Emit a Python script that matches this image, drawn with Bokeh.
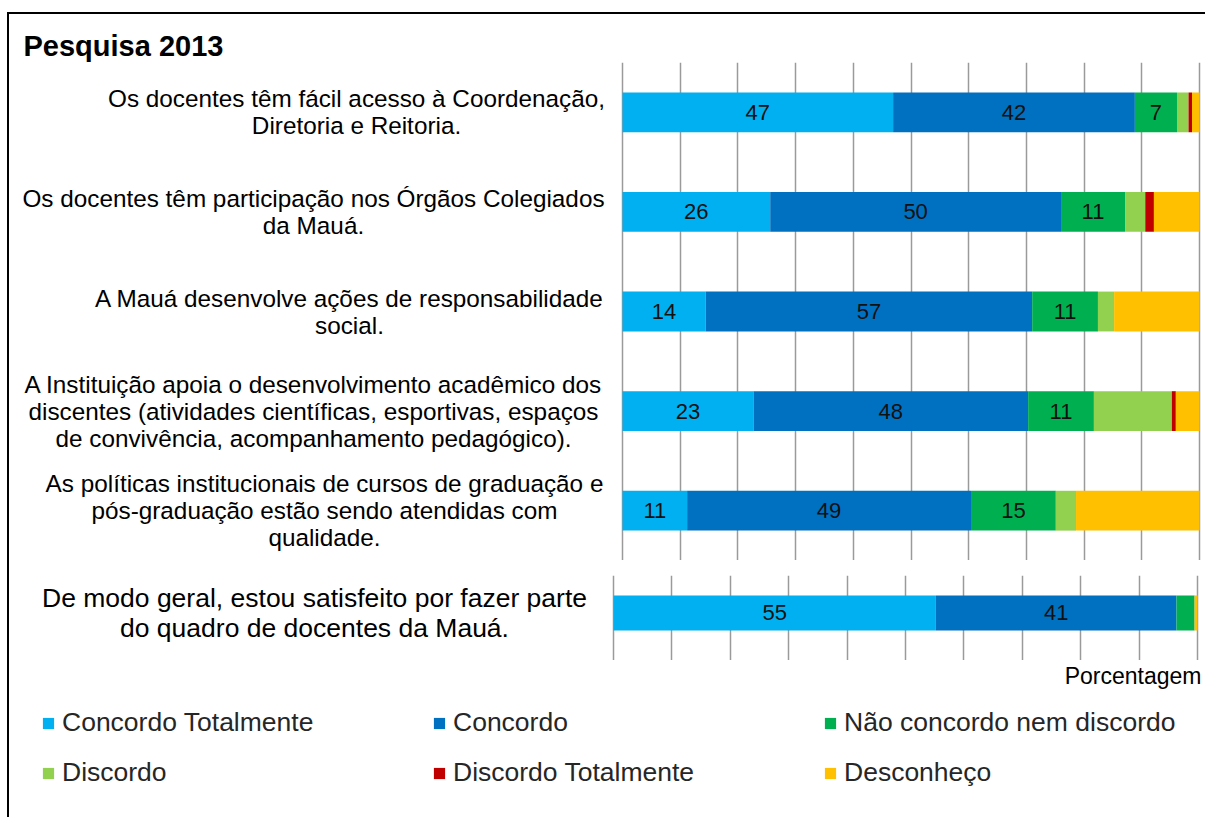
from bokeh.plotting import figure
from bokeh.models import Range1d, Label, Legend, LegendItem, Grid, FixedTicker, ColumnDataSource
from bokeh.layouts import column
from bokeh.embed import file_html
from bokeh.resources import INLINE
from bokeh.core.properties import value

# ---------------- data ----------------
title_text = "Pesquisa 2013"
series = ["Concordo Totalmente", "Concordo", "Não concordo nem discordo",
          "Discordo", "Discordo Totalmente", "Desconheço"]
colors = ["#00B0F0", "#0070C0", "#00B050", "#92D050", "#C00000", "#FFC000"]

top_questions = [
    "Os docentes têm fácil acesso à Coordenação,\nDiretoria e Reitoria.",
    "Os docentes têm participação nos Órgãos Colegiados\nda Mauá.",
    "A Mauá desenvolve ações de responsabilidade\nsocial.",
    "A Instituição apoia o desenvolvimento acadêmico dos\ndiscentes (atividades científicas, esportivas, espaços\nde convivência, acompanhamento pedagógico).",
    "As políticas institucionais de cursos de graduação e\npós-graduação estão sendo atendidas com\nqualidade.",
]
concordo_totalmente = [46.9, 25.6, 14.4, 22.7, 11.2]
concordo = [41.9, 50.4, 56.6, 47.6, 49.2]
nao_concordo = [7.3, 11.1, 11.4, 11.4, 14.7]
discordo = [2.0, 3.5, 2.8, 13.5, 3.5]
discordo_totalmente = [0.6, 1.5, 0.0, 0.7, 0.0]
desconheco = [1.3, 7.9, 14.8, 4.1, 21.4]

bottom_questions = ["De modo geral, estou satisfeito por fazer parte\ndo quadro de docentes da Mauá."]
geral_concordo_totalmente = [55.2]
geral_concordo = [41.2]
geral_nao_concordo = [3.1]
geral_discordo = [0.0]
geral_discordo_totalmente = [0.0]
geral_desconheco = [0.5]

x_ticks = list(range(0, 101, 10))
axis_title = "Porcentagem"

# ---------------- layout constants (page pixels) ----------------
FONT = "Liberation Sans"
W = 1196            # width of every figure
ORIGIN_X = 9        # page x of the figures' left edge
LEG_H = 157         # height of the legend strip
LEG_BOTTOM = 817    # page y of its bottom edge
keys = ["ct", "c", "n", "d", "dt", "ds"]


def blank(height, x_range=None, y_range=None, top=0):
    p = figure(width=W, height=height, output_backend="svg", toolbar_location=None,
               x_range=x_range or Range1d(0, 1), y_range=y_range or Range1d(0, 1),
               x_axis_location=None, y_axis_location=None,
               min_border_left=0, min_border_right=0,
               min_border_top=top, min_border_bottom=0)
    p.outline_line_color = None
    p.background_fill_color = "white"
    p.border_fill_color = "white"
    for g in p.grid:
        g.visible = False
    return p


def stack_source(cols, n):
    data = {"y": [i + 0.5 for i in range(n)]}
    for k, vals in zip(keys, cols):
        data[k] = vals
    return ColumnDataSource(data)


def make_panel(questions, cols, height, top, zero_px, hundred_px, y_range, label_xs, label_size):
    n = len(questions)
    ppu = (hundred_px - zero_px) / 100.0
    x0 = (ORIGIN_X - zero_px) / ppu
    p = blank(height, Range1d(x0, x0 + W / ppu), y_range, top)
    p.add_layout(Grid(dimension=0, ticker=FixedTicker(ticks=x_ticks),
                      grid_line_color="#9A9A9A", grid_line_width=1.5))
    p.hbar_stack(keys, y="y", height=0.4, color=colors, line_color=None,
                 source=stack_source(cols, n))

    tx, ty, tt = [], [], []
    for i in range(n):
        acc = 0.0
        for j in range(len(keys)):
            v = cols[j][i]
            if j < 3 and v >= 5:
                tx.append(acc + v / 2)
                ty.append(i + 0.5)
                tt.append(str(int(round(v))))
            acc += v
    p.text(x=tx, y=ty, text=tt, text_align="center", text_baseline="middle",
           text_font=value(FONT), text_font_size="22px", text_color="#111111")

    for i, q in enumerate(questions):
        p.add_layout(Label(x=label_xs[i] - ORIGIN_X, x_units="screen", y=i + 0.5, y_units="data",
                           text=q, text_align="center", text_baseline="middle",
                           text_font=FONT, text_font_size=label_size, text_color="#000000",
                           text_line_height=1.0))
    return p


top_cols = [concordo_totalmente, concordo, nao_concordo, discordo, discordo_totalmente, desconheco]
bot_cols = [geral_concordo_totalmente, geral_concordo, geral_nao_concordo, geral_discordo,
            geral_discordo_totalmente, geral_desconheco]

# title strip: page y 14..62
p0 = blank(48)
p0.add_layout(Label(x=23 - ORIGIN_X, x_units="screen", y=17, y_units="screen", text=title_text,
                    text_align="left", text_baseline="middle", text_font=FONT,
                    text_font_size="29px", text_font_style="bold", text_color="#000000"))

# top panel: page y 62..560, 0% at x=622, 100% at x=1199
p1 = make_panel(top_questions, top_cols, 498, 0, 622, 1199, Range1d(5, 0),
                [356, 313, 349, 313, 324], "24.3px")

# bottom panel: page y 560..660 (grid from 575), 0% at 613, 100% at 1197
p2 = make_panel(bottom_questions, bot_cols, 100, 15, 613, 1197, Range1d(1.0429, 0.0714),
                [314], "26.5px")

# legend strip: page y 660..817 (swatch renderers sit outside its y range)
p3 = blank(LEG_H, y_range=Range1d(10, 11))
swatches = p3.hbar_stack(keys, y="y", height=0.4, color=colors, line_color=None,
                         source=stack_source(bot_cols, 1))
legend = Legend(items=[LegendItem(label=s, renderers=[r]) for s, r in zip(series, swatches)],
                location=(41 - ORIGIN_X, LEG_BOTTOM - 788), orientation="horizontal", ncols=3,
                glyph_width=14, glyph_height=14, label_standoff=7,
                label_width=351, label_height=30, spacing=19,
                padding=0, margin=0, border_line_color=None,
                background_fill_alpha=0,
                label_text_font=FONT, label_text_font_size="26.5px",
                label_text_color="#262626")
p3.add_layout(legend)
p3.add_layout(Label(x=1201 - ORIGIN_X, x_units="screen", y=LEG_BOTTOM - 675, y_units="screen",
                    text=axis_title, text_align="right", text_baseline="middle",
                    text_font=FONT, text_font_size="23px", text_color="#000000"))

layout = column(p0, p1, p2, p3, styles={"border-left": "2px solid black",
                                        "border-top": "2px solid black",
                                        "margin-top": "12px",
                                        "margin-left": "7px"})

open("out.html", "w").write(file_html(layout, INLINE))
